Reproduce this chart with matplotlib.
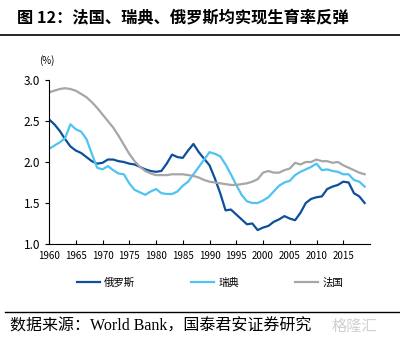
import numpy as np
import matplotlib.pyplot as plt

plt.rcParams['font.family'] = ['Noto Sans CJK SC', 'DejaVu Sans']

years = np.arange(1960, 2020)
russia = [2.52, 2.46, 2.38, 2.28, 2.19, 2.14, 2.11, 2.06, 2.01, 1.98,
          1.99, 2.03, 2.03, 2.01, 2.00, 1.98, 1.97, 1.94, 1.91, 1.89,
          1.88, 1.89, 1.98, 2.09, 2.06, 2.05, 2.14, 2.22, 2.12, 2.04,
          1.96, 1.80, 1.62, 1.41, 1.42, 1.36, 1.30, 1.24, 1.25, 1.17,
          1.20, 1.22, 1.27, 1.30, 1.34, 1.31, 1.29, 1.38, 1.50, 1.55,
          1.57, 1.58, 1.67, 1.70, 1.72, 1.76, 1.75, 1.62, 1.58, 1.50]
sweden = [2.16, 2.20, 2.24, 2.29, 2.46, 2.40, 2.37, 2.28, 2.10, 1.93,
          1.91, 1.95, 1.90, 1.86, 1.85, 1.74, 1.66, 1.63, 1.60, 1.64,
          1.67, 1.62, 1.61, 1.61, 1.64, 1.71, 1.76, 1.85, 1.94, 2.03,
          2.12, 2.10, 2.07, 1.97, 1.85, 1.72, 1.60, 1.52, 1.50, 1.50,
          1.53, 1.57, 1.64, 1.71, 1.75, 1.77, 1.84, 1.88, 1.91, 1.94,
          1.98, 1.90, 1.91, 1.89, 1.88, 1.85, 1.85, 1.78, 1.76, 1.70]
france = [2.85, 2.87, 2.89, 2.90, 2.89, 2.87, 2.83, 2.79, 2.73, 2.66,
          2.58, 2.50, 2.42, 2.32, 2.21, 2.10, 2.01, 1.94, 1.89, 1.86,
          1.84, 1.84, 1.84, 1.85, 1.85, 1.85, 1.84, 1.83, 1.81, 1.78,
          1.76, 1.75, 1.74, 1.73, 1.72, 1.72, 1.73, 1.74, 1.76, 1.79,
          1.87, 1.89, 1.87, 1.87, 1.90, 1.92, 1.99, 1.97, 2.00, 2.00,
          2.03, 2.01, 2.01, 1.99, 2.00, 1.96, 1.93, 1.90, 1.87, 1.85]
names = ['俄罗斯', '瑞典', '法国']
colors = ['#0d4f9a', '#4fc3f1', '#a6a6a6']
xticks = np.arange(1960, 2020, 5)
yticks = [1.0, 1.5, 2.0, 2.5, 3.0]

fig = plt.figure(figsize=(4, 3.4), dpi=100)
ax = fig.add_axes([0.1225, 0.2824, 0.8025, 0.4823])

for vals, name, c in zip([russia, sweden, france], names, colors):
    ax.plot(years, vals, color=c, lw=1.6, label=name)

ax.set_xlim(1960, 2020)
ax.set_ylim(1.0, 3.0)
ax.set_xticks(xticks)
ax.set_yticks(yticks)
ax.set_yticklabels(['%.1f' % v for v in yticks])
ax.tick_params(axis='x', direction='in', length=3, labelsize=7, pad=5)
ax.tick_params(axis='y', direction='out', length=3, labelsize=8.5)
for s in ['top', 'right']:
    ax.spines[s].set_visible(False)
ax.text(-0.03, 1.1, '(%)', transform=ax.transAxes, fontsize=7)

fig.legend(loc='center', bbox_to_anchor=(0.525, 0.17), ncol=3, frameon=False,
           fontsize=7.5, handlelength=2.2, columnspacing=5.4, handletextpad=0.4)

fig.text(0.042, 0.947, '图 12：法国、瑞典、俄罗斯均实现生育率反弹', fontsize=11.7,
         fontweight='bold', va='center')
fig.add_artist(plt.Line2D([0, 1], [0.897, 0.897], color='black', lw=1.2))
fig.add_artist(plt.Line2D([0.012, 1], [0.082, 0.082], color='black', lw=1.0))
fig.text(0.025, 0.04, '数据来源：World Bank，国泰君安证券研究', fontsize=11.5,
         va='center', family=['Liberation Serif', 'Noto Sans CJK SC'])
fig.text(0.83, 0.04, '格隆汇', fontsize=11, va='center', color='#d0d0d0')

fig.savefig('out.png')
